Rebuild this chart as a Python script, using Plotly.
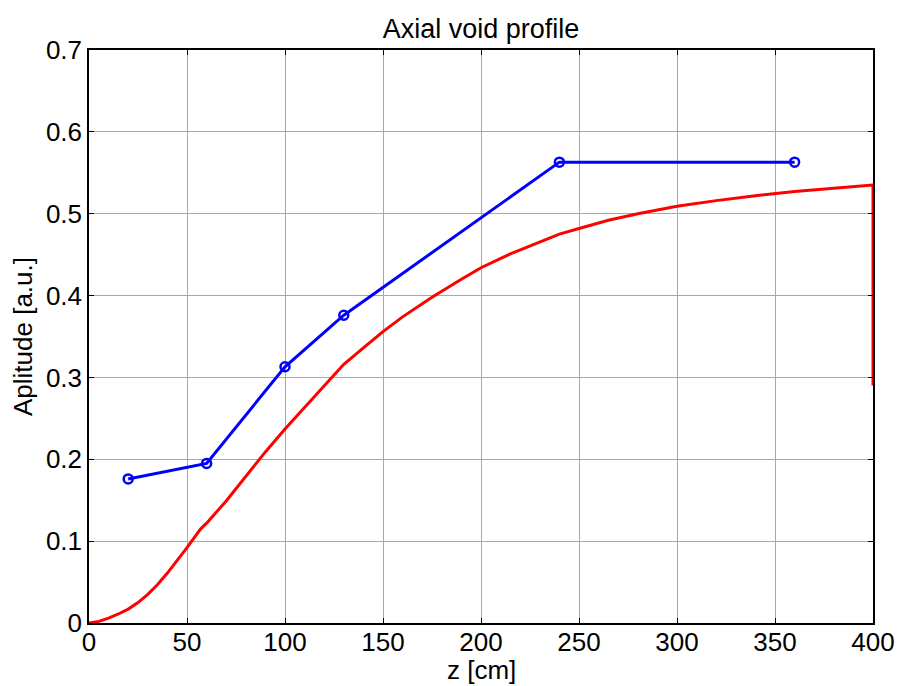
import plotly.graph_objects as go

# Measured points (blue)
z_meas = [20, 60, 100, 130, 240, 360]
amp_meas = [0.176, 0.195, 0.313, 0.376, 0.563, 0.563]

# Model profile (red)
z_model = [0, 5, 10, 15, 20, 25, 30, 35, 40, 45, 50, 57, 60, 70, 80, 90, 100, 110, 120,
           130, 140, 150, 160, 175, 190, 200, 215, 230, 240, 250, 265, 280, 300, 320,
           340, 360, 380, 398, 400, 400]
amp_model = [0, 0.002, 0.006, 0.011, 0.017, 0.025, 0.035, 0.047, 0.061, 0.076, 0.092,
             0.115, 0.122, 0.149, 0.179, 0.209, 0.237, 0.263, 0.290, 0.316, 0.336, 0.356,
             0.374, 0.398, 0.420, 0.434, 0.451, 0.466, 0.475, 0.482, 0.492, 0.500, 0.509,
             0.516, 0.522, 0.527, 0.531, 0.534, 0.535, 0.29]

x_ticks = [0, 50, 100, 150, 200, 250, 300, 350, 400]
y_ticks = [0, 0.1, 0.2, 0.3, 0.4, 0.5, 0.6, 0.7]
y_tick_text = ["0", "0.1", "0.2", "0.3", "0.4", "0.5", "0.6", "0.7"]

fig = go.Figure()
fig.add_trace(go.Scatter(x=z_model, y=amp_model, mode="lines",
                         line=dict(color="#ff0000", width=3), showlegend=False,
                         cliponaxis=False))
fig.add_trace(go.Scatter(x=z_meas, y=amp_meas, mode="lines+markers",
                         line=dict(color="#0000ff", width=3),
                         marker=dict(symbol="circle-open", size=9, color="#0000ff",
                                     line=dict(width=2.5, color="#0000ff")),
                         showlegend=False))

font = "Liberation Sans, Arial, sans-serif"
W, H = 899, 686
ML, MR, MT, MB = 89, 26, 50, 63
plot_h = H - MT - MB

fig.update_layout(
    width=W, height=H,
    margin=dict(l=ML, r=MR, t=MT, b=MB, autoexpand=False),
    paper_bgcolor="white", plot_bgcolor="white",
    font=dict(family=font, color="black"),
    title=dict(text="Axial void profile", x=0.5, xref="paper", xanchor="center",
               y=1, yref="paper", yanchor="bottom", pad=dict(b=12),
               font=dict(size=27, family=font, color="black")),
)
fig.add_annotation(text="z [cm]", xref="paper", yref="paper", x=0.5, y=-MB / plot_h,
                   xanchor="center", yanchor="bottom", yshift=0, showarrow=False,
                   borderpad=0, font=dict(size=26, family=font, color="black"))
axis_common = dict(
    showline=True, linecolor="black", linewidth=1.5, mirror="ticks",
    ticks="inside", ticklen=5, tickcolor="black", tickwidth=1,
    showgrid=True, gridcolor="#a8a8a8", gridwidth=1, zeroline=False,
    tickfont=dict(size=26, family=font, color="black"),
    automargin=False, ticklabeloverflow="allow",
)
fig.update_xaxes(range=[0, 400], tickvals=x_ticks, ticktext=[str(v) for v in x_ticks],
                 ticklabelstandoff=-5, **axis_common)
fig.update_yaxes(range=[0, 0.7], tickvals=y_ticks, ticktext=y_tick_text,
                 title=dict(text="Aplitude [a.u.]", font=dict(size=26, family=font), standoff=6),
                 **axis_common)

fig.write_html("out.html")
